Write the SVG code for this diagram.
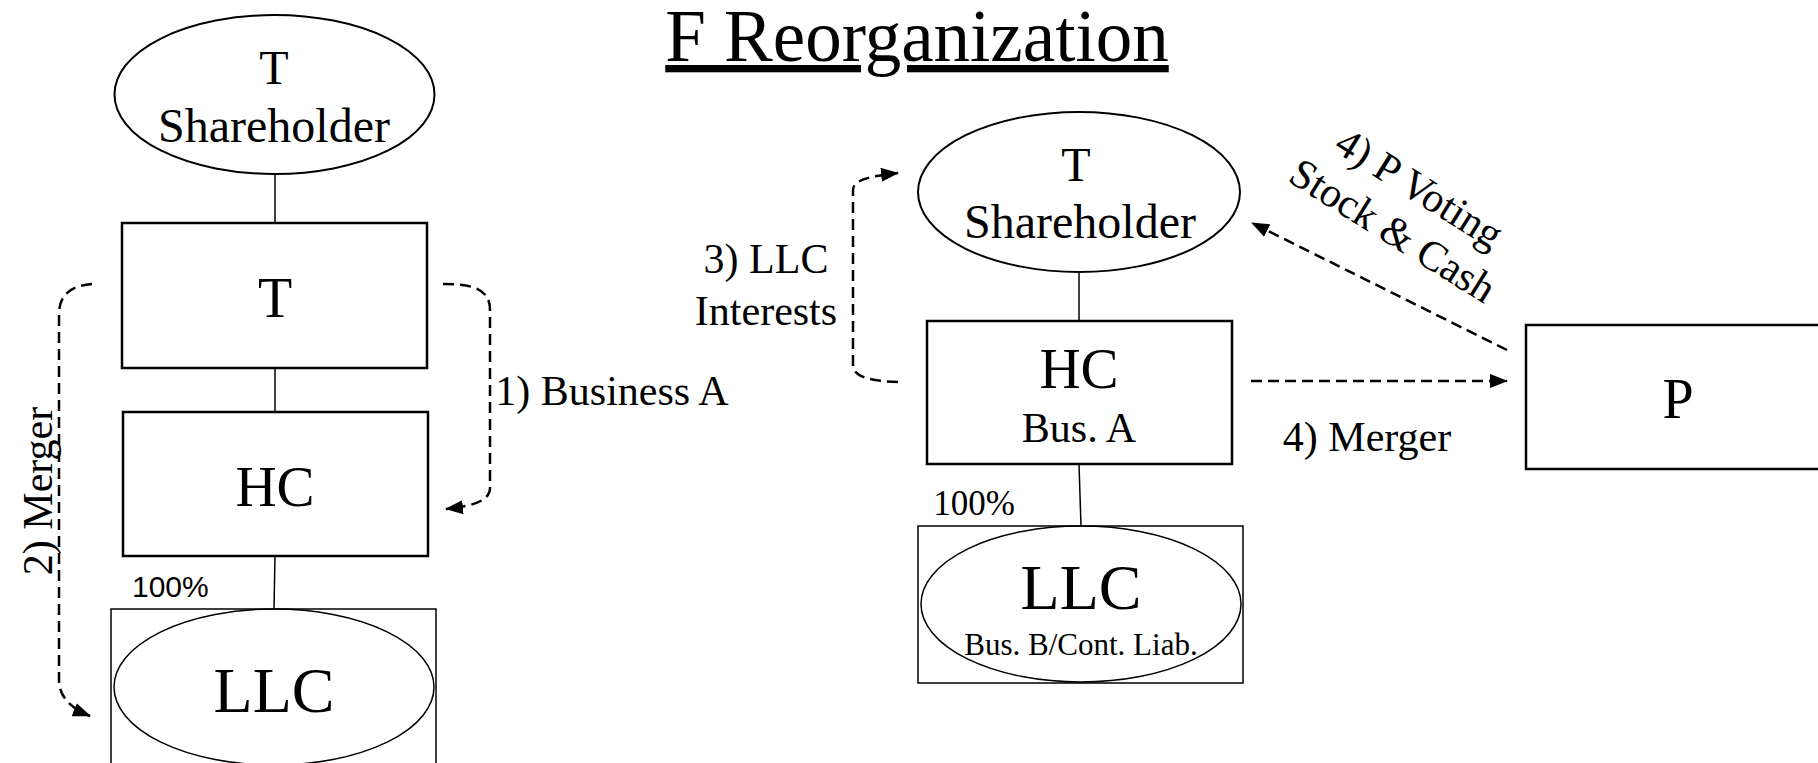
<svg xmlns="http://www.w3.org/2000/svg" width="1818" height="763" viewBox="0 0 1818 763">
<style>
.t{font-family:"Liberation Serif","Times New Roman",serif;fill:#000;text-anchor:middle}
.box{fill:#fff;stroke:#000;stroke-width:2.5}
.ell{fill:#fff;stroke:#000;stroke-width:2}
.thin{fill:none;stroke:#000;stroke-width:1.5}
.link{stroke:#000;stroke-width:1.5;fill:none}
.dash{fill:none;stroke:#000;stroke-width:2.5;stroke-dasharray:11 6}
</style>
<defs>
<marker id="ah" markerUnits="userSpaceOnUse" markerWidth="18" markerHeight="14" refX="17" refY="7" orient="auto">
<path d="M0,0 L18,7 L0,14 z" fill="#000"/>
</marker>
</defs>
<rect width="1818" height="763" fill="#fff"/>
<text class="t" x="917" y="61" font-size="73" text-decoration="underline">F Reorganization</text>

<g id="connectors">
<line class="link" x1="275" y1="174" x2="275" y2="223"/>
<line class="link" x1="275" y1="368" x2="275" y2="412"/>
<line class="link" x1="275" y1="556" x2="274" y2="609"/>
<line class="link" x1="1079" y1="272" x2="1079" y2="321"/>
<line class="link" x1="1079" y1="464" x2="1081" y2="526"/>
<path class="dash" d="M443,284 C475,284 490,290 490,310 L490,488 C490,500 475,506 446,509" marker-end="url(#ah)"/>
<path class="dash" d="M92,284 C70,286 59,295 59,315 L59,680 C59,696 70,708 90,716" marker-end="url(#ah)"/>
<path class="dash" d="M898,382 C870,381 853,377 853,365 L853,190 C853,180 870,176 898,173" marker-end="url(#ah)"/>
<path class="dash" d="M1251,381 L1507,381" marker-end="url(#ah)"/>
<path class="dash" d="M1507,350 L1252,223" marker-end="url(#ah)"/>
<text class="t" x="0" y="0" font-size="42" transform="translate(52,491) rotate(-90)">2) Merger</text>
<text class="t" x="612" y="405" font-size="42">1) Business A</text>
<text class="t" x="766" y="273" font-size="42">3) LLC</text>
<text class="t" x="766" y="325" font-size="42">Interests</text>
<text class="t" x="1367" y="451" font-size="42">4) Merger</text>
<g transform="translate(1412,200) rotate(32)">
<text class="t" x="0" y="0" font-size="42">4) P Voting</text>
<text class="t" x="0" y="50" font-size="42">Stock &amp; Cash</text>
</g>
</g>

<g id="t-shareholder-left">
<ellipse class="ell" cx="274.5" cy="94.5" rx="160" ry="79.5"/>
<text class="t" x="274" y="84" font-size="48">T</text>
<text class="t" x="274" y="142" font-size="48">Shareholder</text>
</g>
<g id="t-box">
<rect class="box" x="122" y="223" width="305" height="145"/>
<text class="t" x="275" y="317" font-size="56">T</text>
</g>
<g id="hc-left">
<rect class="box" x="123" y="412" width="305" height="144"/>
<text class="t" x="275" y="506" font-size="57">HC</text>
</g>
<g id="llc-left">
<text font-family="Liberation Sans, Arial, sans-serif" font-size="30" x="132" y="597">100%</text>
<rect class="thin" x="111" y="609" width="325" height="170"/>
<ellipse class="thin" cx="274" cy="687" rx="160" ry="78"/>
<text class="t" x="274" y="712" font-size="64">LLC</text>
</g>

<g id="t-shareholder-right">
<ellipse class="ell" cx="1079" cy="192" rx="161" ry="80"/>
<text class="t" x="1076" y="181" font-size="48">T</text>
<text class="t" x="1080" y="238" font-size="48">Shareholder</text>
</g>
<g id="hc-right">
<rect class="box" x="927" y="321" width="305" height="143"/>
<text class="t" x="1079" y="388" font-size="57">HC</text>
<text class="t" x="1079" y="442" font-size="42">Bus. A</text>
</g>
<g id="llc-right">
<text class="t" x="974" y="515" font-size="35">100%</text>
<rect class="thin" x="918" y="526" width="325" height="157"/>
<ellipse class="thin" cx="1081" cy="604" rx="160" ry="78"/>
<text class="t" x="1081" y="609" font-size="64">LLC</text>
<text class="t" x="1081" y="655" font-size="31">Bus. B/Cont. Liab.</text>
</g>
<g id="p-box">
<rect class="box" x="1526" y="325" width="305" height="144"/>
<text class="t" x="1678" y="418" font-size="56">P</text>
</g>
</svg>
